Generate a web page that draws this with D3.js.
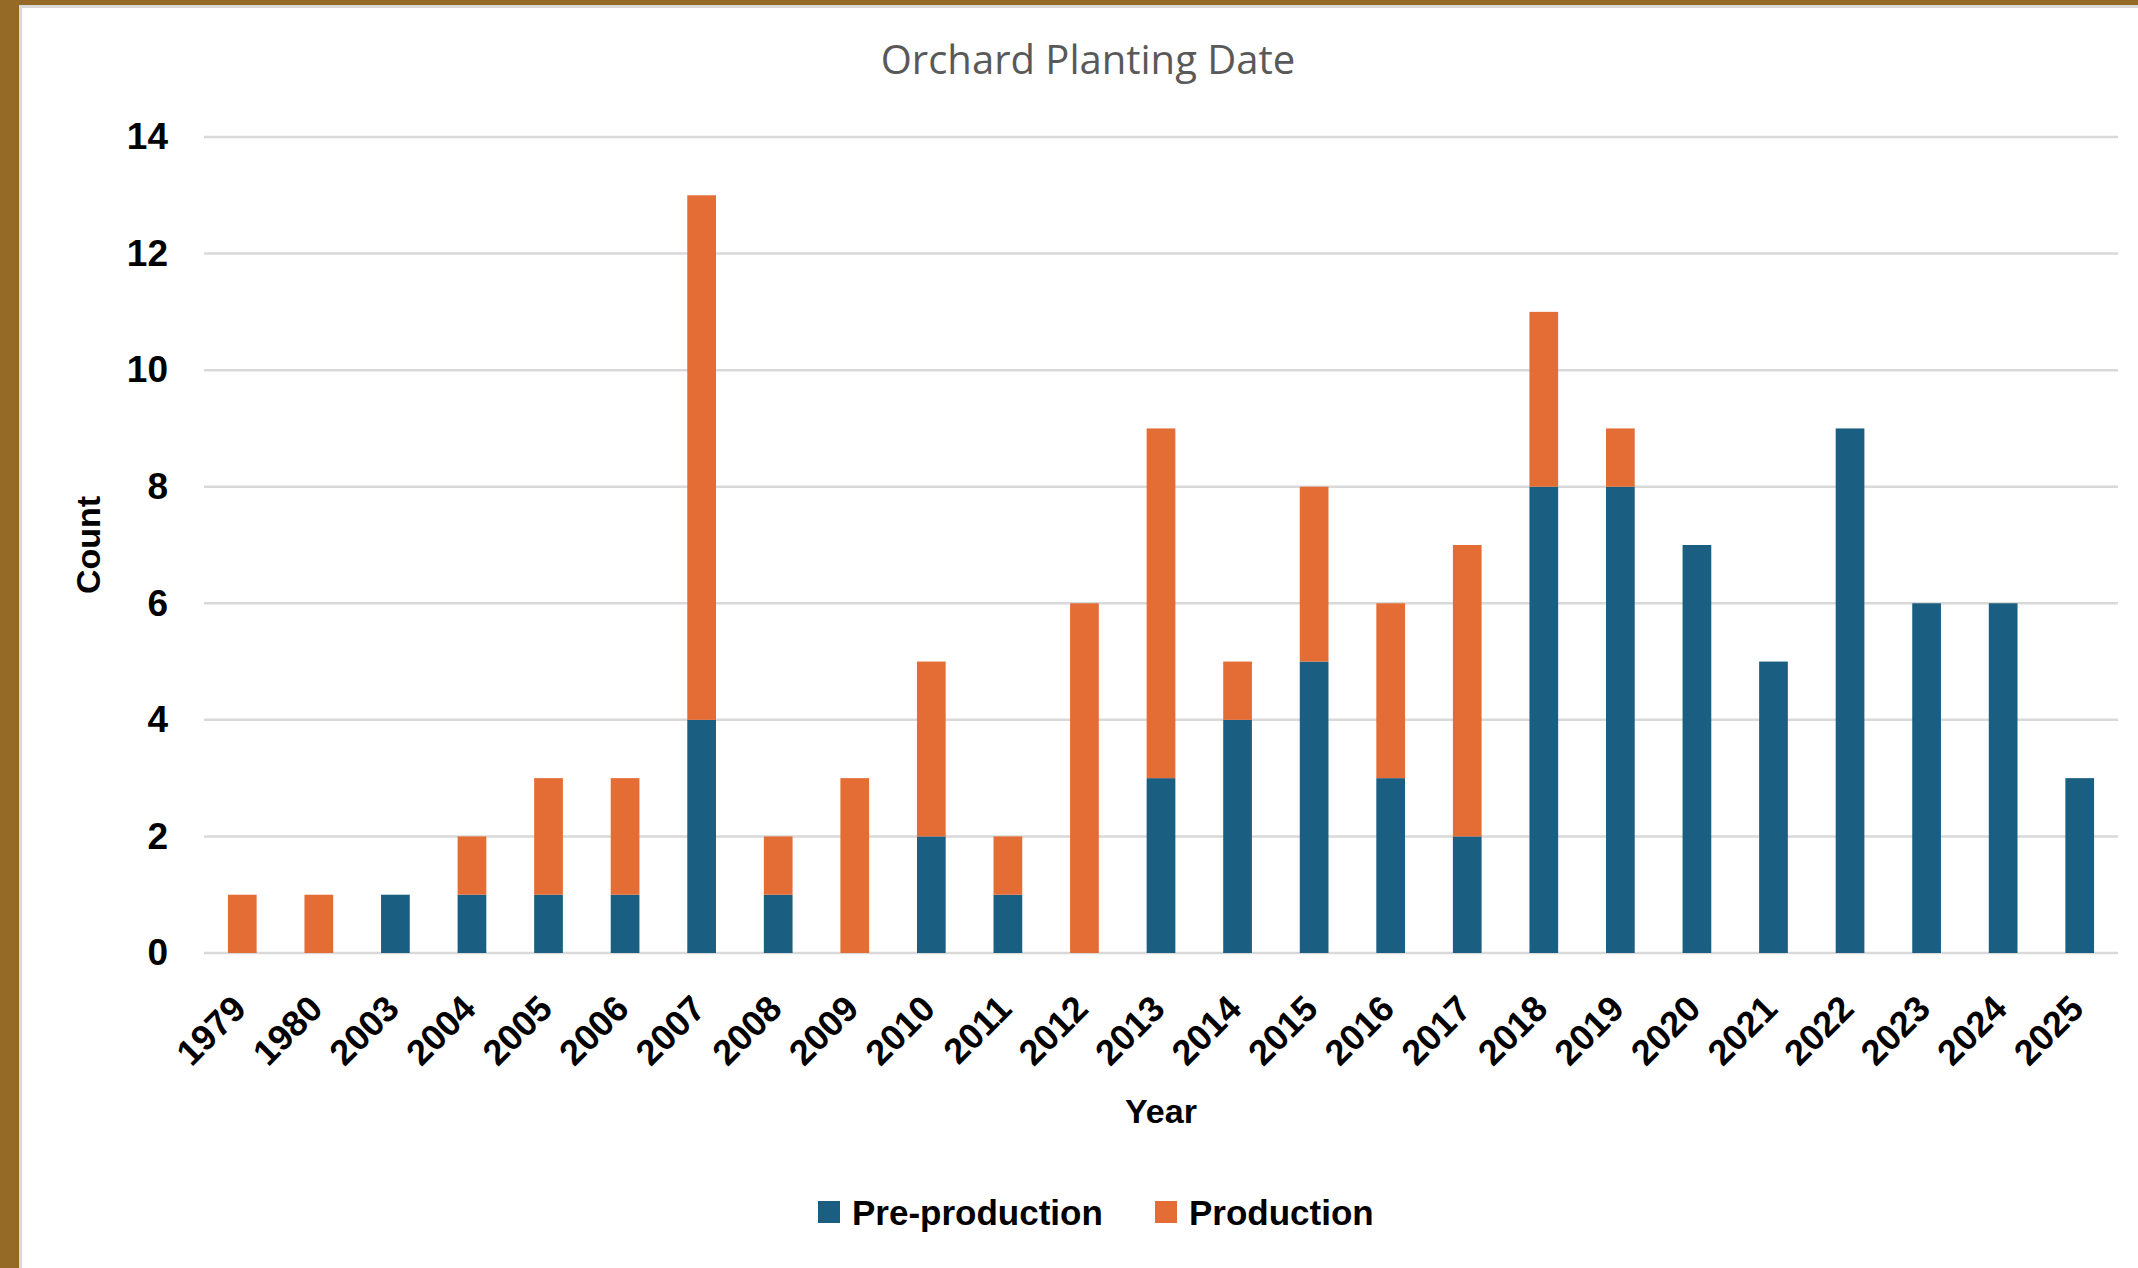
<!DOCTYPE html>
<html>
<head>
<meta charset="utf-8">
<script src="https://cdn.jsdelivr.net/npm/d3@7"></script>
<style>
  body { margin: 0; background: #fff; }
  text { font-family: "Liberation Sans", Arial, sans-serif; }
</style>
</head>
<body>
<div id="chart"></div>
<script>
// data
const years = ["1979","1980","2003","2004","2005","2006","2007","2008","2009","2010","2011","2012",
               "2013","2014","2015","2016","2017","2018","2019","2020","2021","2022","2023","2024","2025"];
const preProduction = [0,0,1,1,1,1,4,1,0,2,1,0,3,4,5,3,2,8,8,7,5,9,6,6,3];
const production    = [1,1,0,1,2,2,9,1,3,3,1,6,6,1,3,3,5,3,1,0,0,0,0,0,0];
const seriesNames = ["Pre-production", "Production"];
const yTicks = [0, 2, 4, 6, 8, 10, 12, 14];

const W = 2138, H = 1268;
const margin = {top: 137, right: 20, bottom: 313, left: 204};
const colors = {"Pre-production": "#1a5e82", "Production": "#e46c35"};

const svg = d3.select("#chart").append("svg")
  .attr("width", W).attr("height", H);

// frame (brown edge at left and top)
svg.append("rect").attr("x", 0).attr("y", 0).attr("width", W).attr("height", H).attr("fill", "#fff");
svg.append("rect").attr("x", 0).attr("y", 0).attr("width", W).attr("height", 5).attr("fill", "#956a27");
svg.append("rect").attr("x", 0).attr("y", 0).attr("width", 19).attr("height", H).attr("fill", "#956a27");
svg.append("rect").attr("x", 19).attr("y", 5).attr("width", W).attr("height", 3).attr("fill", "#d9d9d9");
svg.append("rect").attr("x", 19).attr("y", 5).attr("width", 3).attr("height", H).attr("fill", "#d9d9d9");

const x = d3.scaleBand()
  .domain(years)
  .range([margin.left, W - margin.right])
  .paddingInner(0.625)
  .paddingOuter(0.3125);

const y = d3.scaleLinear()
  .domain([0, 14])
  .range([H - margin.bottom - 2, margin.top]);

// gridlines
svg.append("g")
  .selectAll("line")
  .data(yTicks)
  .join("line")
  .attr("x1", margin.left).attr("x2", W - margin.right)
  .attr("y1", d => y(d)).attr("y2", d => y(d))
  .attr("stroke", "#d9d9d9")
  .attr("stroke-width", 2.5);

// y axis labels
const yAxis = svg.append("g")
  .attr("transform", `translate(${margin.left - 36},0)`)
  .call(d3.axisLeft(y).tickValues(yTicks).tickSize(0).tickPadding(0));
yAxis.select(".domain").remove();
yAxis.selectAll("text")
  .attr("font-size", 37).attr("font-weight", "bold").attr("fill", "#000")
  .attr("font-family", "Liberation Sans, Arial, sans-serif");

// stacked bars
const table = years.map((yr, i) => ({year: yr, "Pre-production": preProduction[i], "Production": production[i]}));
const stacked = d3.stack().keys(seriesNames)(table);

svg.append("g")
  .selectAll("g")
  .data(stacked)
  .join("g")
  .attr("fill", d => colors[d.key])
  .selectAll("rect")
  .data(d => d.filter(p => p[1] > p[0]))
  .join("rect")
  .attr("x", d => x(d.data.year))
  .attr("y", d => y(d[1]))
  .attr("width", x.bandwidth())
  .attr("height", d => y(d[0]) - y(d[1]));

// x axis labels
const baseY = y(0);
svg.append("g")
  .selectAll("text")
  .data(years)
  .join("text")
  .attr("transform", d => `translate(${x(d) + x.bandwidth() / 2 - 12},${baseY + 40}) rotate(-45)`)
  .attr("text-anchor", "end")
  .attr("dy", "0.7em")
  .attr("font-size", 36)
  .attr("font-weight", "bold")
  .text(d => d);

// title
svg.append("text")
  .attr("x", 1088).attr("y", 74)
  .attr("text-anchor", "middle")
  .attr("font-size", 40)
  .attr("fill", "#595959")
  .style("font-family", "'Open Sans', sans-serif")
  .text("Orchard Planting Date");

// axis titles
svg.append("text")
  .attr("transform", `translate(100,${(y(0) + y(14)) / 2}) rotate(-90)`)
  .attr("text-anchor", "middle")
  .attr("font-size", 34).attr("font-weight", "bold")
  .text("Count");

svg.append("text")
  .attr("x", 1161).attr("y", 1123)
  .attr("text-anchor", "middle")
  .attr("font-size", 34).attr("font-weight", "bold")
  .text("Year");

// legend
const legendItems = [{name: seriesNames[0], x: 818}, {name: seriesNames[1], x: 1155}];
const lg = svg.append("g").selectAll("g").data(legendItems).join("g")
  .attr("transform", d => `translate(${d.x},1212)`);
lg.append("rect")
  .attr("x", 0).attr("y", -11).attr("width", 22).attr("height", 22)
  .attr("fill", d => colors[d.name]);
lg.append("text")
  .attr("x", 34).attr("y", 0).attr("dy", "0.36em")
  .attr("font-size", 35).attr("font-weight", "bold")
  .text(d => d.name);
</script>
</body>
</html>
